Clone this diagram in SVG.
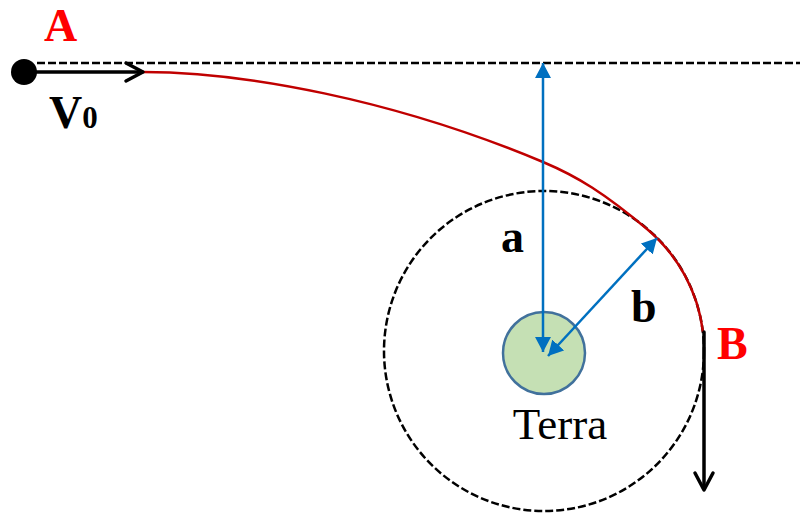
<svg xmlns="http://www.w3.org/2000/svg" width="800" height="516" viewBox="0 0 800 516">
  <style>
    .dash { fill: none; stroke: #000; stroke-width: 2.5; stroke-dasharray: 8 3; }
    .blue { fill: none; stroke: #0070c0; stroke-width: 2.5; marker-start: url(#bh); marker-end: url(#bh); }
    .blk { fill: none; stroke: #000; stroke-width: 3.5; stroke-linecap: round; stroke-linejoin: round; }
    .lbl { font-family: "Liberation Serif", "Times New Roman", serif; font-weight: bold; font-size: 46px; }
    .red { fill: #ff0000; }
  </style>
  <defs>
    <marker id="bh" viewBox="0 0 15 16" refX="15" refY="8" markerWidth="15" markerHeight="16" markerUnits="userSpaceOnUse" orient="auto-start-reverse">
      <path d="M0,0 L15,8 L0,16 z" fill="#0070c0"/>
    </marker>
  </defs>
  <rect width="800" height="516" fill="#fff"/>

  <g id="reference-line">
    <line class="dash" x1="37" y1="63" x2="800" y2="63"/>
  </g>
  <g id="orbit">
    <circle class="dash" cx="544" cy="351" r="160"/>
  </g>
  <g id="earth">
    <circle cx="544" cy="353" r="41" fill="#c5e0b4" stroke="#41719c" stroke-width="2.5"/>
    <text x="560" y="439" text-anchor="middle" font-family="Liberation Serif, Times New Roman, serif" font-size="45">Terra</text>
  </g>
  <g id="connectors">
    <path id="trajectory" d="M143,72 C243,72 393,99 543,162 C578,176.7 604.9,193.6 647,229 A160,160 0 0 1 703,332" fill="none" stroke="#c00000" stroke-width="2.5"/>
    <line class="blue" x1="543" y1="63" x2="543" y2="352"/>
    <line class="blue" x1="657" y1="238" x2="548" y2="356"/>
    <line class="blk" x1="30" y1="72" x2="142" y2="72"/>
    <polyline class="blk" points="126,63 143,72 126,81"/>
    <line class="blk" x1="704" y1="332" x2="704" y2="488" stroke-linecap="butt"/>
    <polyline class="blk" points="695,473 704,490 713,473"/>
  </g>
  <g id="point-A">
    <circle cx="24" cy="72" r="13" fill="#000"/>
    <text class="lbl red" x="44" y="41">A</text>
    <text class="lbl" x="49" y="128">V<tspan font-size="31">0</tspan></text>
  </g>
  <g id="point-B">
    <text class="lbl red" x="717" y="359">B</text>
  </g>
  <g id="labels">
    <text class="lbl" x="501" y="252">a</text>
    <text class="lbl" x="631" y="322">b</text>
  </g>
</svg>
